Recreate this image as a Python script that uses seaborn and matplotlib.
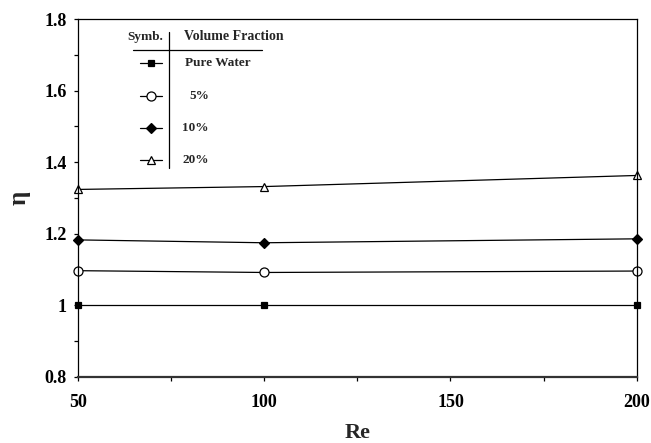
import seaborn as sns
import matplotlib.pyplot as plt
from matplotlib.ticker import MultipleLocator

re_vals = [50, 100, 200]
pure_water = [1.0, 1.0, 1.0]
frac_5 = [1.097, 1.092, 1.096]
frac_10 = [1.183, 1.175, 1.186]
frac_20 = [1.324, 1.332, 1.363]

series_names = ['Pure Water', '5%', '10%', '20%']
series_vals = [pure_water, frac_5, frac_10, frac_20]
markers = ['s', 'o', 'D', '^']
faces = ['black', 'white', 'black', 'white']
msizes = [5, 6.5, 5, 6]

x_ticks = [50, 100, 150, 200]
y_ticks = [0.8, 1.0, 1.2, 1.4, 1.6, 1.8]
y_labels = ['0.8', '1', '1.2', '1.4', '1.6', '1.8']

sns.set_style('ticks')
plt.rcParams['font.family'] = ['Liberation Serif', 'DejaVu Serif']
plt.rcParams['font.weight'] = 'bold'

fig = plt.figure(figsize=(6.51, 4.43), dpi=100)
ax = fig.add_axes([0.12, 0.149, 0.858, 0.808])

for name, vals, m, fc, ms in zip(series_names, series_vals, markers, faces, msizes):
    sns.lineplot(x=re_vals, y=vals, ax=ax, color='black', lw=0.9,
                 marker=m, markersize=ms, markerfacecolor=fc,
                 markeredgecolor='black', markeredgewidth=0.9, clip_on=False)

ax.set_xlim(50, 200)
ax.set_ylim(0.8, 1.8)
ax.set_xticks(x_ticks)
ax.set_xticklabels([str(v) for v in x_ticks])
ax.set_yticks(y_ticks)
ax.set_yticklabels(y_labels)
ax.xaxis.set_minor_locator(MultipleLocator(25))
ax.yaxis.set_minor_locator(MultipleLocator(0.1))
ax.tick_params(which='both', direction='out', length=3, width=0.9, colors='black')
ax.tick_params(axis='both', which='major', labelsize=13)
ax.tick_params(axis='x', which='major', pad=9)
ax.tick_params(axis='y', which='major', pad=5)
for lab in ax.get_xticklabels() + ax.get_yticklabels():
    lab.set_fontweight('bold')
for s in ax.spines.values():
    s.set_color('black')
    s.set_linewidth(0.9)
ax.spines['bottom'].set_linewidth(1.6)
ax.spines['bottom'].set_color('#333333')

ax.set_xlabel('Re', fontsize=16, fontweight='bold', labelpad=9)
ax.set_ylabel('η', fontsize=18, fontweight='bold', labelpad=10)

# table-like legend
tr = ax.transAxes
ax.plot([0.163, 0.163], [0.584, 0.964], color='black', lw=0.9, transform=tr)
ax.plot([0.098, 0.329], [0.913, 0.913], color='black', lw=0.9, transform=tr)
ax.text(0.12, 0.95, 'Symb.', transform=tr, ha='center', va='center', fontsize=9.5, fontweight='bold')
ax.text(0.19, 0.95, 'Volume Fraction', transform=tr, ha='left', va='center', fontsize=10, fontweight='bold')
rows_y = [0.877, 0.785, 0.696, 0.606]
text_x = [0.191, 0.199, 0.186, 0.186]
for name, m, fc, ms, yy, tx in zip(series_names, markers, faces, msizes, rows_y, text_x):
    ax.plot([0.111, 0.150], [yy, yy], color='black', lw=0.9, transform=tr)
    ax.plot([0.131], [yy], marker=m, markersize=ms, markerfacecolor=fc,
            markeredgecolor='black', markeredgewidth=0.9, color='black', transform=tr)
    ax.text(tx, yy, name, transform=tr, ha='left', va='center', fontsize=9.5, fontweight='bold')

fig.savefig('out.png', dpi=100)
